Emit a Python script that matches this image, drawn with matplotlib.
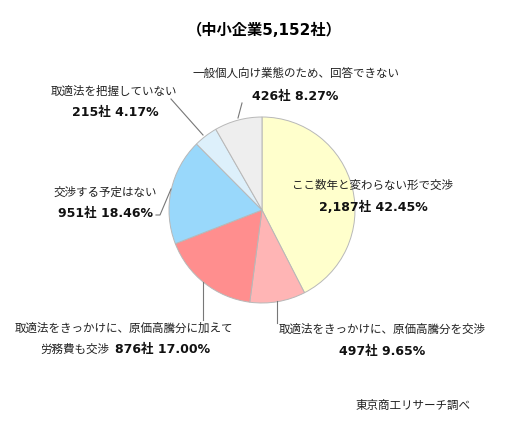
import matplotlib
matplotlib.use('Agg')
import matplotlib.pyplot as plt

plt.rcParams['font.family'] = ['Noto Sans CJK JP', 'DejaVu Sans']

# data, clockwise from 12 o'clock
labels = ['ここ数年と変わらない形で交渉',
          '取適法をきっかけに、原価高騰分を交渉',
          '取適法をきっかけに、原価高騰分に加えて',
          '交渉する予定はない',
          '取適法を把握していない',
          '一般個人向け業態のため、回答できない']
counts = [2187, 497, 876, 951, 215, 426]
shares = [42.45, 9.65, 17.00, 18.46, 4.17, 8.27]
colors = ['#FFFFCC', '#FFB5B5', '#FF8E8E', '#99D8FB', '#DDF0FB', '#EEEEEE']
title = '（中小企業5,152社）'
source = '東京商工リサーチ調べ'

W, H = 505, 428
fig = plt.figure(figsize=(W / 100, H / 100), dpi=100)
ax = fig.add_axes([0, 0, 1, 1])
ax.set_xlim(0, W)
ax.set_ylim(0, H)
ax.set_aspect('equal')
ax.axis('off')


def Y(y):
    # pixel row (top-down) -> data y
    return H - y


ax.pie(shares, colors=colors, startangle=90, counterclock=False,
       center=(262, Y(210)), radius=93,
       wedgeprops=dict(edgecolor='#B8B8B8', linewidth=0.7))
ax.set_xlim(0, W)
ax.set_ylim(0, H)

def amount(i):
    return f'{counts[i]:,}社 {shares[i]:.2f}%'

bold_fam = ['DejaVu Sans', 'Noto Sans CJK JP']
norm = dict(fontsize=8.3, color='#222222', ha='center', va='center')
bold = dict(fontsize=9, color='#111111', ha='center', va='center', fontweight='bold',
            family=bold_fam)

ax.text(264, Y(30), title, fontsize=11, fontweight='bold', ha='center', va='center',
        family=bold_fam)

# yellow slice
ax.text(373, Y(185), labels[0], **norm)
ax.text(373, Y(207), amount(0), **bold)

# light pink slice
ax.text(382, Y(329), labels[1], **norm)
ax.text(382, Y(352), amount(1), **bold)
ax.plot([277, 277], [Y(301), Y(323)], color='#777777', lw=0.8)

# salmon slice
ax.text(124, Y(328), labels[2], **norm)
ax.text(109, Y(349), '労務費も交渉', fontsize=8.3, color='#222222', ha='right', va='center')
ax.text(115, Y(349), amount(2), fontsize=9, color='#111111', ha='left', va='center',
        fontweight='bold', family=bold_fam)
ax.plot([203, 203], [Y(282), Y(320)], color='#777777', lw=0.8)

# blue slice
ax.text(105, Y(192), labels[3], **norm)
ax.text(105, Y(213), amount(3), **bold)
ax.plot([156, 160, 171], [Y(215), Y(215), Y(189)], color='#777777', lw=0.8)

# light blue slice
ax.text(114, Y(91), labels[4], **norm)
ax.text(115, Y(112), amount(4), **bold)
ax.plot([171, 203], [Y(99), Y(135)], color='#777777', lw=0.8)

# grey slice
ax.text(296, Y(73), labels[5], **norm)
ax.text(295, Y(96), amount(5), **bold)
ax.plot([238, 242], [Y(118), Y(103)], color='#777777', lw=0.8)

ax.text(413, Y(405), source, **norm)

fig.savefig('out.png', dpi=100)
